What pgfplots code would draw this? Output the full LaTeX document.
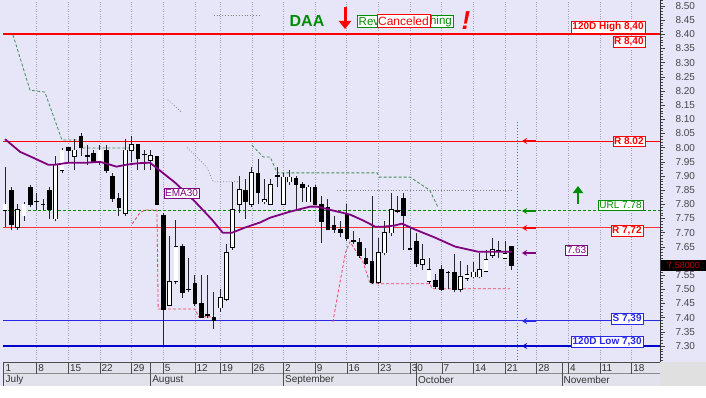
\documentclass[border=0pt]{standalone}
\usepackage{fontspec}
\setmainfont{Liberation Sans}
\usepackage{pgfplots}
\pgfplotsset{compat=1.18}
\usepackage{pgfplotstable}
\usetikzlibrary{arrows.meta}

\definecolor{bg}{RGB}{230,230,248}
\definecolor{band}{RGB}{226,226,236}
\definecolor{gridc}{RGB}{160,160,180}
\definecolor{emacol}{RGB}{128,0,128}
\definecolor{dgreen}{RGB}{0,140,0}
\definecolor{tgreen}{RGB}{70,140,90}
\definecolor{tred}{RGB}{235,70,100}
\definecolor{bline}{RGB}{40,40,230}
\definecolor{bthick}{RGB}{0,0,205}
\definecolor{magd}{RGB}{190,60,150}
\definecolor{pricered}{RGB}{190,0,0}

\pgfplotstableread{
i O H L C
0 7.78 7.93 7.72 7.80
2 7.72 7.80 7.71 7.78
3 7.76 7.81 7.74 7.80
5 7.81 7.84 7.78 7.81
6 7.80 7.82 7.78 7.80
8 7.75 7.97 7.74 7.94
9 7.92 8.00 7.91 7.99
11 7.97 8.03 7.92 7.99
13 7.97 8.01 7.94 7.97
15 7.95 8.01 7.94 7.99
19 7.77 8.03 7.76 7.99
20 7.99 8.04 7.95 8.01
22 7.975 7.99 7.92 7.975
23 7.955 7.99 7.92 7.97
26 7.445 7.69 7.44 7.527
27 7.53 7.745 7.52 7.65
29 7.50 7.61 7.49 7.50
32 7.41 7.55 7.40 7.41
34 7.435 7.50 7.42 7.47
35 7.465 7.66 7.46 7.63
36 7.65 7.88 7.64 7.78
37 7.80 7.90 7.77 7.85
39 7.80 7.93 7.79 7.91
41 7.81 7.89 7.80 7.815
42 7.80 7.89 7.80 7.87
43 7.90 7.93 7.86 7.90
44 7.80 7.91 7.80 7.895
45 7.88 7.92 7.87 7.895
48 7.81 7.87 7.81 7.86
55 7.67 7.705 7.66 7.67
59 7.525 7.68 7.52 7.63
60 7.63 7.74 7.62 7.70
61 7.70 7.84 7.69 7.78
66 7.59 7.66 7.57 7.605
67 7.53 7.61 7.52 7.57
70 7.56 7.565 7.50 7.56
72 7.50 7.60 7.49 7.545
73 7.54 7.585 7.53 7.55
74 7.545 7.595 7.54 7.56
75 7.545 7.63 7.54 7.57
76 7.565 7.64 7.56 7.605
77 7.62 7.68 7.61 7.64
78 7.635 7.67 7.61 7.635
79 7.61 7.67 7.61 7.625
}\upc

\pgfplotstableread{
i O H L C
1 7.85 7.86 7.71 7.73
4 7.86 7.87 7.79 7.80
7 7.85 7.86 7.75 7.78
10 8.00 8.00 7.95 7.99
12 8.04 8.05 7.97 8.00
14 7.98 7.99 7.95 7.95
16 7.99 8.01 7.91 7.92
17 7.90 7.91 7.81 7.82
18 7.82 7.84 7.76 7.79
21 8.01 8.01 7.92 7.96
24 7.97 7.97 7.80 7.80
25 7.76 7.77 7.30 7.43
28 7.65 7.66 7.47 7.49
30 7.52 7.55 7.44 7.45
31 7.45 7.55 7.40 7.40
33 7.40 7.49 7.36 7.39
38 7.85 7.89 7.75 7.81
40 7.91 7.96 7.80 7.84
46 7.89 7.90 7.78 7.87
47 7.87 7.88 7.81 7.86
49 7.86 7.87 7.80 7.80
50 7.80 7.83 7.665 7.74
51 7.79 7.82 7.71 7.71
52 7.725 7.76 7.70 7.71
53 7.71 7.74 7.685 7.70
54 7.765 7.80 7.67 7.68
56 7.665 7.68 7.61 7.62
57 7.61 7.645 7.585 7.59
58 7.60 7.83 7.52 7.525
62 7.78 7.83 7.77 7.775
63 7.82 7.84 7.64 7.76
64 7.645 7.72 7.64 7.64
65 7.67 7.70 7.58 7.59
68 7.53 7.555 7.50 7.51
69 7.57 7.585 7.495 7.50
71 7.56 7.625 7.49 7.50
80 7.65 7.65 7.57 7.585
}\dnc

\newcommand\lab{\fontsize{10}{11}\selectfont}

\begin{document}
\begin{tikzpicture}
\useasboundingbox (0pt,0pt) rectangle (706pt,397pt);
\begin{scope}[shift={(0pt,397pt)}, x=1pt, y=-1pt]
  \fill[bg] (0,0) rectangle (706,397);
  \fill[white] (0,386) rectangle (706,397);
  \fill[band] (3,362) rectangle (660,386);
  \fill[black!12] (660,362) rectangle (706,386);
\end{scope}

\begin{axis}[
  at={(3pt,35pt)}, anchor=south west,
  scale only axis, width=657pt, height=362pt,
  xmin=-0.316, xmax=103.48, ymin=7.2437, ymax=8.521,
  axis background/.style={fill=bg},
  axis line style={draw=none},
  xtick={5,10,15,20,25,30,34,39,44,49,54,59,64,69,74,79,84,89,94,99},
  xticklabels={},
  xmajorgrids, major x grid style={dotted, draw=gridc, line width=0.7pt},
  x tick style={draw=none},
  ytick={7.30,7.35,7.40,7.45,7.50,7.55,7.65,7.70,7.75,7.80,7.85,7.90,7.95,8.00,8.05,8.10,8.15,8.20,8.25,8.30,8.35,8.40,8.45,8.50},
  minor ytick={7.25,7.26,...,8.52},
  ytick pos=right, yticklabel pos=right,
  y tick style={draw=black!75, line width=0.6pt},
  tick align=outside, major tick length=5pt, minor tick length=2.5pt,
  yticklabel style={font=\lab, text=black!72, anchor=west, xshift=7pt,
    /pgf/number format/fixed, /pgf/number format/fixed zerofill,
    /pgf/number format/precision=2, /pgf/number format/assume math mode=true},
]
% horizontal levels
\addplot[red, line width=2pt, forget plot] coordinates {(-0.316,8.40) (103.48,8.40)};
\addplot[red, line width=1pt, forget plot] coordinates {(-0.316,8.02) (103.48,8.02)};
\addplot[red!80!white, line width=1pt, forget plot] coordinates {(-0.316,7.72) (103.48,7.72)};
\addplot[dgreen, densely dashed, line width=0.8pt, forget plot] coordinates {(-0.316,7.78) (103.48,7.78)};
\addplot[bline, line width=1pt, forget plot] coordinates {(-0.316,7.39) (103.48,7.39)};
\addplot[bthick, line width=2pt, forget plot] coordinates {(-0.316,7.30) (103.48,7.30)};
% gray dotted segments
\addplot[gray, dotted, line width=0.8pt, forget plot] coordinates {(33,8.467) (40.3,8.467)};
\addplot[gray, dotted, line width=0.8pt, forget plot] coordinates {(25.7,8.169) (28,8.123)};
\addplot[gray, dotted, line width=0.8pt, forget plot] coordinates {(28.8,8.00) (31.9,7.93) (32.9,7.88) (37.1,7.88)};
\addplot[gray, dotted, line width=0.8pt, forget plot] coordinates {(52.5,7.85) (80,7.85)};
% trailing stops
\addplot[tgreen, densely dashed, line width=0.8pt, forget plot] coordinates {(1.26,8.398) (3.95,8.203) (6.3,8.196) (9.0,8.027) (11.85,8.027) (12.2,7.999) (20.5,7.999)};
\addplot[tgreen, densely dashed, line width=0.8pt, forget plot] coordinates {(39,8.009) (40.8,7.967) (41.9,7.967) (43,7.911) (58.8,7.911) (59.1,7.896) (64,7.896) (67.1,7.85) (68.4,7.79)};
\addplot[tred, densely dashed, line width=0.8pt, forget plot] coordinates {(20.1,7.731) (21.3,7.77) (22.1,7.78) (24,7.78) (24.2,7.431) (30,7.431) (30.6,7.403) (32.5,7.403)};
\addplot[tred, densely dashed, line width=0.8pt, forget plot] coordinates {(51.8,7.385) (52.8,7.51) (53.8,7.63) (54.5,7.668) (55.6,7.629) (56.5,7.60) (57.7,7.52) (67.1,7.52) (67.5,7.502) (79.8,7.502)};
% vertical dotted marker
\addplot[magd, dotted, line width=1pt, forget plot] coordinates {(81,8.09) (81,7.2437)};
% wicks
\addplot[draw=none, mark=none, forget plot, error bars/.cd, y dir=plus, y explicit, error mark=none,
  error bar style={draw=black!85, solid, line width=0.9pt}] table[x=i, y=L, y error expr=\thisrow{H}-\thisrow{L}] {\upc};
\addplot[draw=none, mark=none, forget plot, error bars/.cd, y dir=plus, y explicit, error mark=none,
  error bar style={draw=black!85, solid, line width=0.9pt}] table[x=i, y=L, y error expr=\thisrow{H}-\thisrow{L}] {\dnc};
% down bodies
\addplot[draw=none, mark=none, forget plot, error bars/.cd, y dir=plus, y explicit, error mark=none,
  error bar style={draw=black, solid, line width=4.6pt}] table[x=i, y expr=\thisrow{C}-0.0015, y error expr=\thisrow{O}-\thisrow{C}+0.003] {\dnc};
% up bodies
\addplot[draw=none, mark=none, forget plot, error bars/.cd, y dir=plus, y explicit, error mark=none,
  error bar style={draw=black, solid, line width=4.8pt}] table[x=i, y expr=\thisrow{O}-0.0025, y error expr=\thisrow{C}-\thisrow{O}+0.005] {\upc};
\addplot[draw=none, mark=none, forget plot, error bars/.cd, y dir=plus, y explicit, error mark=none,
  error bar style={draw=white, solid, line width=3.2pt}] table[x=i, y=O, y error expr=\thisrow{C}-\thisrow{O}] {\upc};
% EMA30
\addplot[emacol, line width=1.8pt, line join=round, forget plot] coordinates {
(0,8.03) (2.4,7.985) (4.5,7.964) (6.8,7.94) (8,7.94) (10,7.947) (13,7.947) (15,7.95) (16.6,7.94) (17.6,7.933) (19.2,7.94) (21,7.945) (22.9,7.947) (23.7,7.933) (26.9,7.876) (30,7.81) (32.7,7.746) (34.4,7.70) (35.9,7.70) (37.9,7.718) (40.3,7.736) (41.9,7.753) (45,7.774) (48.2,7.792) (49.3,7.792) (51.3,7.781) (54.5,7.764) (56.6,7.743) (58.5,7.721) (59.7,7.721) (61.5,7.725) (62.7,7.732) (64.8,7.711) (67.9,7.683) (71.1,7.651) (74.7,7.633) (77.4,7.633) (80.1,7.633)};
\end{axis}

\begin{scope}[shift={(0pt,397pt)}, x=1pt, y=-1pt]
  % right axis line and hidden 7.60 tick
  \draw[black!80, line width=0.8pt] (660,0) -- (660,362);
  % price box
  \fill[black] (661,260) rectangle (706,271);
  \node[text=pricered, font=\fontsize{9}{10}\selectfont, inner sep=0] at (683.5,265.5) {7.58000};
  % date band
  \draw[black!70, line width=0.6pt] (3,362) -- (660,362);
  \draw[black!45, line width=0.5pt] (3,373.5) -- (660,373.5);
  \draw[black!70, line width=0.6pt] (3.5,362) -- (3.5,386);
  \foreach \xx/\lbl in {36.65/8,68.3/15,99.95/22,131.6/29,163.25/5,194.9/12,220.2/19,251.9/26,283.5/2,315.2/9,346.8/16,378.5/23,410.1/30,441.8/7,473.4/14,505.1/21,536.7/28,568.4/4,600.0/11,631.7/18} {
    \draw[black!70, line width=0.6pt] (\xx,362) -- (\xx,373.5);
    \node[anchor=west, inner sep=0, font=\lab, text=black!80] at (\xx+1.5,368.2) {\lbl};
  }
  \node[anchor=west, inner sep=0, font=\lab, text=black!80] at (5.5,368.2) {1};
  \foreach \xx/\mon in {150.6/August,283.5/September,416.5/October,562.0/November} {
    \draw[black!70, line width=0.6pt] (\xx,362) -- (\xx,386);
    \node[anchor=west, inner sep=0, font=\lab, text=black!80] at (\xx+1.5,380) {\mon};
  }
  \node[anchor=west, inner sep=0, font=\lab, text=black!80] at (5.5,380) {July};
  % right level labels
  \node[anchor=east, draw=red, fill=white, text=red, font=\lab\bfseries, inner sep=1.2pt] at (645,27) {120D High 8,40};
  \node[anchor=east, draw=red, fill=white, text=red, font=\lab\bfseries, inner sep=1.2pt] at (645,42) {R 8,40};
  \node[anchor=east, draw=red, fill=white, text=red, font=\lab\bfseries, inner sep=1.2pt] at (645,141) {R 8.02};
  \node[anchor=east, draw=dgreen, fill=white, text=dgreen, font=\lab, inner sep=1.2pt] at (643,205) {URL 7.78};
  \node[anchor=east, draw=red, fill=white, text=red, font=\lab\bfseries, inner sep=1.2pt] at (643,231) {R 7,72};
  \node[draw=emacol, fill=white, text=emacol, font=\lab, inner sep=1.2pt] at (576.5,250) {7.63};
  \node[anchor=east, draw=bline, fill=white, text=bline, font=\lab\bfseries, inner sep=1.2pt] at (643,319) {S 7,39};
  \node[anchor=east, draw=bline, fill=white, text=bline, font=\lab\bfseries, inner sep=1.2pt] at (643,341.5) {120D Low 7,30};
  \node[draw=emacol, fill=white, text=emacol, font=\lab, inner sep=1.2pt] at (181.5,193) {EMA30};
  % arrows at right
  \draw[red, line width=1.5pt, -{Stealth[length=5pt,width=6pt]}] (536,141) -- (522,141);
  \draw[dgreen, line width=1.5pt, -{Stealth[length=5pt,width=6pt]}] (536,211) -- (522,211);
  \draw[red, line width=1.5pt, -{Stealth[length=5pt,width=6pt]}] (536,228) -- (522,228);
  \draw[emacol, line width=1.5pt, -{Stealth[length=5pt,width=6pt]}] (536,253) -- (522,253);
  \draw[bline, line width=1.5pt, -{Stealth[length=5pt,width=6pt]}] (536,321) -- (522,321);
  \draw[bthick, line width=1.5pt, -{Stealth[length=5pt,width=6pt]}] (536,346) -- (522,346);
  \draw[dgreen, line width=2.5pt, -{Triangle[length=7pt,width=10pt]}] (578,204) -- (578,186);
  % top annotations
  \node[text=dgreen, font=\fontsize{16}{18}\selectfont\bfseries] at (307,21) {DAA};
  \draw[red, line width=3pt, -{Triangle[length=8pt,width=12pt]}] (345,7) -- (345,29);
  \draw[dgreen, line width=0.8pt, fill=white] (357,15) rectangle (453,27.5);
  \node[anchor=west, inner sep=0, text=dgreen, font=\fontsize{11.5}{12}\selectfont] at (358.5,21.3) {Rev};
  \node[anchor=east, inner sep=0, text=dgreen, font=\fontsize{11.5}{12}\selectfont] at (452,21.3) {hing};
  \draw[red, line width=0.8pt, fill=white] (377,14.5) rectangle (430,27.5);
  \node[inner sep=0, text=red, font=\fontsize{12}{13}\selectfont] at (403.5,21.3) {Canceled};
  \node[text=red, font=\fontsize{26}{28}\selectfont\bfseries\itshape, inner sep=0] at (466,21) {!};
\end{scope}
\end{tikzpicture}
\end{document}
